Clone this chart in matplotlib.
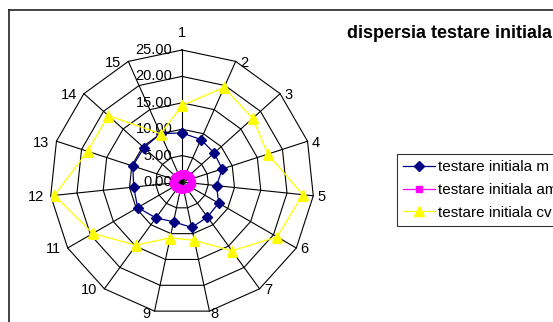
import numpy as np
import matplotlib
matplotlib.use('Agg')
import matplotlib.pyplot as plt
from matplotlib.lines import Line2D

plt.rcParams['font.family'] = ['Liberation Sans', 'DejaVu Sans']

categories = [str(i) for i in range(1, 16)]
m_values = [9.3, 8.8, 8.2, 8.0, 6.6, 8.0, 8.2, 8.8, 7.7, 8.4, 9.7, 9.2, 9.8, 9.7, 10.0]
am_values = [1.5, 1.6, 1.7, 1.8, 1.9, 1.7, 1.5, 1.3, 1.3, 1.4, 1.6, 1.8, 1.6, 1.5, 1.4]
cv_values = [14.5, 19.6, 18.0, 17.1, 23.0, 20.8, 16.1, 11.3, 10.8, 14.8, 19.5, 24.3, 18.8, 18.8, 10.0]
radial_ticks = [0, 5, 10, 15, 20, 25]
radial_labels = ['0.00', '5.00', '10.00', '15.00', '20.00', '25.00']
series_names = ['testare initiala m', 'testare initiala am', 'testare initiala cv']
title = 'dispersia testare initiala'

W, H = 553, 322
fig = plt.figure(figsize=(W / 100, H / 100), dpi=100)
ax = fig.add_axes([50 / W, 8 / H, 264 / W, 264 / H], projection='polar')
ax.set_theta_offset(np.pi / 2)
ax.set_theta_direction(-1)
ax.set_ylim(0, radial_ticks[-1])
ax.grid(False)
ax.spines['polar'].set_visible(False)
ax.set_xticks([])
ax.set_yticks([])
ax.patch.set_visible(False)

n = len(categories)
theta = np.arange(n) * 2 * np.pi / n
theta_c = np.append(theta, theta[0])
rmax = radial_ticks[-1]

# polygon grid
for r in radial_ticks[1:]:
    ax.plot(theta_c, [r] * (n + 1), color='black', lw=0.8, zorder=1, clip_on=False)
for t in theta:
    ax.plot([t, t], [0, rmax], color='black', lw=0.8, zorder=1, clip_on=False)

# radial labels
for r, lab in zip(radial_ticks, radial_labels):
    ax.annotate(lab, xy=(0, r), xytext=(-7, 0), textcoords='offset points',
                ha='right', va='center', fontsize=10.5, color='black', zorder=3,
                annotation_clip=False)

# category labels
for t, lab in zip(theta, categories):
    s, c = np.sin(t), np.cos(t)
    if c > 0.95:
        ha, dx, dy = 'center', 0, 12
    elif abs(s) < 0.25:
        ha = 'left' if s > 0 else 'right'
        dx, dy = (1 if s > 0 else -3), -2
    else:
        ha = 'left' if s > 0 else 'right'
        dx, dy = (3 if s > 0 else -5), -1
    ax.annotate(lab, xy=(t, rmax), xytext=(dx, dy), textcoords='offset points',
                ha=ha, va='center', fontsize=10.5, color='black',
                annotation_clip=False)

# series
l1, = ax.plot(theta_c, m_values + m_values[:1], color='#000080', lw=0.9,
              marker='D', markersize=4.6, markerfacecolor='#000080',
              markeredgecolor='#000080', zorder=4, label=series_names[0])
l2, = ax.plot(theta_c, am_values + am_values[:1], color='#FF00FF', lw=0.9,
              marker='s', markersize=4.5, markerfacecolor='#FF00FF',
              markeredgecolor='#FF00FF', zorder=5, label=series_names[1])
l3, = ax.plot(theta_c, cv_values + cv_values[:1], color='#FFFF00', lw=0.9,
              marker='^', markersize=6.5, markerfacecolor='#FFFF00',
              markeredgecolor='#FFFF00', zorder=6, label=series_names[2])

leg = fig.legend(handles=[l1, l2, l3], loc='upper left',
                 bbox_to_anchor=(397 / W, 1 - 154 / H), fontsize=11,
                 frameon=True, fancybox=False, edgecolor='black',
                 handlelength=2.1, handletextpad=0.2, labelspacing=0.58,
                 borderpad=0.4, borderaxespad=0)
leg.get_frame().set_linewidth(0.8)

fig.text(347 / W, 1 - 33 / H, title, fontweight='bold', fontsize=13,
         ha='left', va='center')

# outer chart frame (partially cut off)
fig.add_artist(Line2D([8.5 / W, 8.5 / W], [0, 1 - 10 / H], transform=fig.transFigure,
                      color='#222222', lw=1.2))
fig.add_artist(Line2D([8.5 / W, 1], [1 - 10 / H, 1 - 10 / H], transform=fig.transFigure,
                      color='#222222', lw=1.2))

fig.savefig('out.png', dpi=100)
